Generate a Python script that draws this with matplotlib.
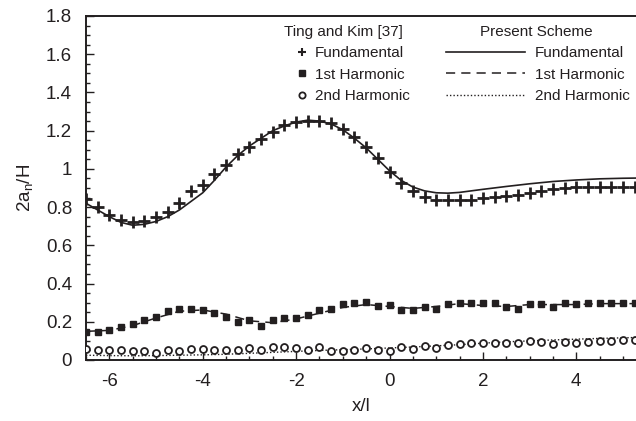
import matplotlib.pyplot as plt
import numpy as np
from matplotlib.lines import Line2D
from matplotlib.ticker import MultipleLocator, FormatStrFormatter

plt.rcParams['font.family'] = ['Liberation Sans', 'DejaVu Sans']
plt.rcParams['mathtext.fontset'] = 'custom'
plt.rcParams['mathtext.rm'] = 'Liberation Sans'
plt.rcParams['mathtext.it'] = 'Liberation Sans:italic'
plt.rcParams['axes.unicode_minus'] = False

INK = '#231f20'

# Ting and Kim measurements, one point every 0.25 in x/l
x_exp = np.arange(-6.5, 5.26, 0.25)
fund_exp = [0.84, 0.80, 0.76, 0.733, 0.724, 0.728, 0.747, 0.776, 0.82, 0.885,
            0.916, 0.972, 1.022, 1.077, 1.117, 1.155, 1.195, 1.23, 1.244, 1.253,
            1.251, 1.239, 1.208, 1.169, 1.113, 1.056, 0.986, 0.928, 0.886, 0.852,
            0.838, 0.838, 0.838, 0.838, 0.846, 0.852, 0.857, 0.865, 0.876, 0.886,
            0.893, 0.900, 0.904, 0.905, 0.906, 0.905, 0.905, 0.904]
first_exp = [0.149, 0.145, 0.155, 0.173, 0.187, 0.209, 0.227, 0.258, 0.267, 0.267,
             0.26, 0.245, 0.227, 0.2, 0.209, 0.178, 0.209, 0.218, 0.218, 0.233,
             0.264, 0.269, 0.295, 0.3, 0.305, 0.282, 0.287, 0.264, 0.264, 0.276,
             0.267, 0.295, 0.3, 0.3, 0.3, 0.3, 0.276, 0.267, 0.295, 0.295,
             0.276, 0.3, 0.291, 0.3, 0.3, 0.3, 0.3, 0.3]
second_exp = [0.058, 0.052, 0.05, 0.052, 0.046, 0.048, 0.039, 0.052, 0.048, 0.058,
              0.058, 0.052, 0.052, 0.052, 0.062, 0.052, 0.066, 0.067, 0.062, 0.052,
              0.066, 0.046, 0.048, 0.052, 0.062, 0.052, 0.048, 0.067, 0.058, 0.071,
              0.062, 0.077, 0.085, 0.087, 0.087, 0.091, 0.091, 0.091, 0.1, 0.096,
              0.085, 0.096, 0.091, 0.096, 0.1, 0.1, 0.104, 0.104]

# present scheme, fundamental amplitude
x_fund = [-6.5, -6.25, -6.0, -5.75, -5.5, -5.25, -5.0, -4.75, -4.5, -4.25,
          -4.0, -3.75, -3.5, -3.25, -3.0, -2.75, -2.5, -2.25, -2.0, -1.75,
          -1.5, -1.25, -1.0, -0.75, -0.5, -0.25, 0.0, 0.25, 0.5, 0.75,
          1.0, 1.25, 1.5, 1.75, 2.0, 2.5, 3.0, 3.5, 4.0, 4.5, 5.0, 5.3]
fund_num = [0.82, 0.785, 0.75, 0.72, 0.705, 0.71, 0.725, 0.75, 0.785, 0.83,
            0.875, 0.94, 1.01, 1.07, 1.12, 1.16, 1.20, 1.225, 1.245, 1.255,
            1.25, 1.235, 1.205, 1.16, 1.11, 1.05, 0.99, 0.94, 0.905, 0.885,
            0.875, 0.873, 0.877, 0.885, 0.893, 0.908, 0.922, 0.934, 0.942, 0.948,
            0.951, 0.952]

# present scheme, higher harmonics
x_harm = [-6.5, -6.0, -5.5, -5.0, -4.5, -4.0, -3.5, -3.0, -2.5, -2.0, -1.5, -1.0,
          -0.5, 0.0, 0.5, 1.0, 1.5, 2.0, 2.5, 3.0, 3.5, 4.0, 4.5, 5.0, 5.3]
first_num = [0.15, 0.155, 0.18, 0.22, 0.255, 0.262, 0.24, 0.205, 0.195, 0.215,
             0.245, 0.275, 0.29, 0.28, 0.27, 0.28, 0.295, 0.285, 0.28, 0.29,
             0.29, 0.29, 0.295, 0.295, 0.295]
second_num = [0.025, 0.023, 0.022, 0.023, 0.025, 0.027, 0.03, 0.035, 0.04, 0.045,
              0.05, 0.054, 0.058, 0.063, 0.068, 0.074, 0.08, 0.088, 0.095, 0.1,
              0.105, 0.109, 0.113, 0.116, 0.118]

W, H = 636, 421
fig = plt.figure(figsize=(W / 100, H / 100), dpi=100)
ax = fig.add_axes([86 / W, 61 / H, 551 / W, 344 / H])

ax.plot(x_fund, fund_num, '-', color=INK, lw=1.2, zorder=2)
ax.plot(x_harm, first_num, '--', color=INK, lw=1.1, dashes=(6, 4), zorder=2)
ax.plot(x_harm, second_num, ':', color=INK, lw=1.0, dashes=(1, 1.5), zorder=2)

ax.plot(x_exp, fund_exp, '+', color=INK, ms=9, mew=2.0, ls='none', zorder=3)
ax.plot(x_exp, first_exp, 's', color=INK, ms=4.5, ls='none', zorder=3)
ax.plot(x_exp, second_exp, 'o', mfc='white', mec=INK, ms=5, mew=1.3, ls='none', zorder=3)

ax.set_xlim(-6.5, 5.3)
ax.set_ylim(0, 1.8)
ax.xaxis.set_major_locator(MultipleLocator(2))
ax.xaxis.set_minor_locator(MultipleLocator(0.5))
ax.yaxis.set_major_locator(MultipleLocator(0.2))
ax.yaxis.set_minor_locator(MultipleLocator(0.05))
ax.yaxis.set_major_formatter(FormatStrFormatter('%g'))
ax.xaxis.set_major_formatter(FormatStrFormatter('%g'))
ax.tick_params(which='both', direction='in', top=False, right=False,
               color=INK, width=1.0, labelsize=13.5, labelcolor=INK)
ax.tick_params(which='major', length=5.5, pad=9)
ax.tick_params(which='minor', length=3)
ax.tick_params(axis='y', which='major', pad=10)
for side in ('left', 'bottom', 'top'):
    ax.spines[side].set_linewidth(1.4)
    ax.spines[side].set_color(INK)
ax.spines['right'].set_visible(False)

ax.set_xlabel('x/l', fontsize=13.5, color=INK, labelpad=6)
ax.set_ylabel(r'2a$_\mathregular{n}$/H', fontsize=13.5, color=INK, labelpad=8)

# two-column key: measurements on the left, numerical results on the right
exp_handles = [
    Line2D([], [], marker='+', color=INK, ms=6, mew=1.5, ls='none'),
    Line2D([], [], marker='s', color=INK, ms=4.5, ls='none'),
    Line2D([], [], marker='o', mfc='white', mec=INK, ms=4.5, mew=1.3, ls='none'),
]
num_handles = [
    Line2D([], [], color=INK, lw=1.2),
    Line2D([], [], color=INK, lw=1.1, ls='--', dashes=(6, 4)),
    Line2D([], [], color=INK, lw=1.0, ls=':', dashes=(1, 1.5)),
]
names = ['Fundamental', '1st Harmonic', '2nd Harmonic']

leg1 = fig.legend(exp_handles, names, loc='upper left',
                  bbox_to_anchor=(297 / W, 1 - 46 / H), frameon=False,
                  fontsize=11, handlelength=0.7, handletextpad=0.45,
                  labelspacing=0.5, borderpad=0, borderaxespad=0,
                  labelcolor=INK)
leg2 = fig.legend(num_handles, names, loc='upper left',
                  bbox_to_anchor=(446 / W, 1 - 46 / H), frameon=False,
                  fontsize=11, handlelength=5.2, handletextpad=0.6,
                  labelspacing=0.5, borderpad=0, borderaxespad=0,
                  labelcolor=INK)
fig.text(343 / W, 1 - 31.7 / H, 'Ting and Kim [37]', fontsize=11,
         color=INK, ha='center', va='center')
fig.text(536 / W, 1 - 31.7 / H, 'Present Scheme', fontsize=11,
         color=INK, ha='center', va='center')

fig.savefig('out.png', dpi=100)
